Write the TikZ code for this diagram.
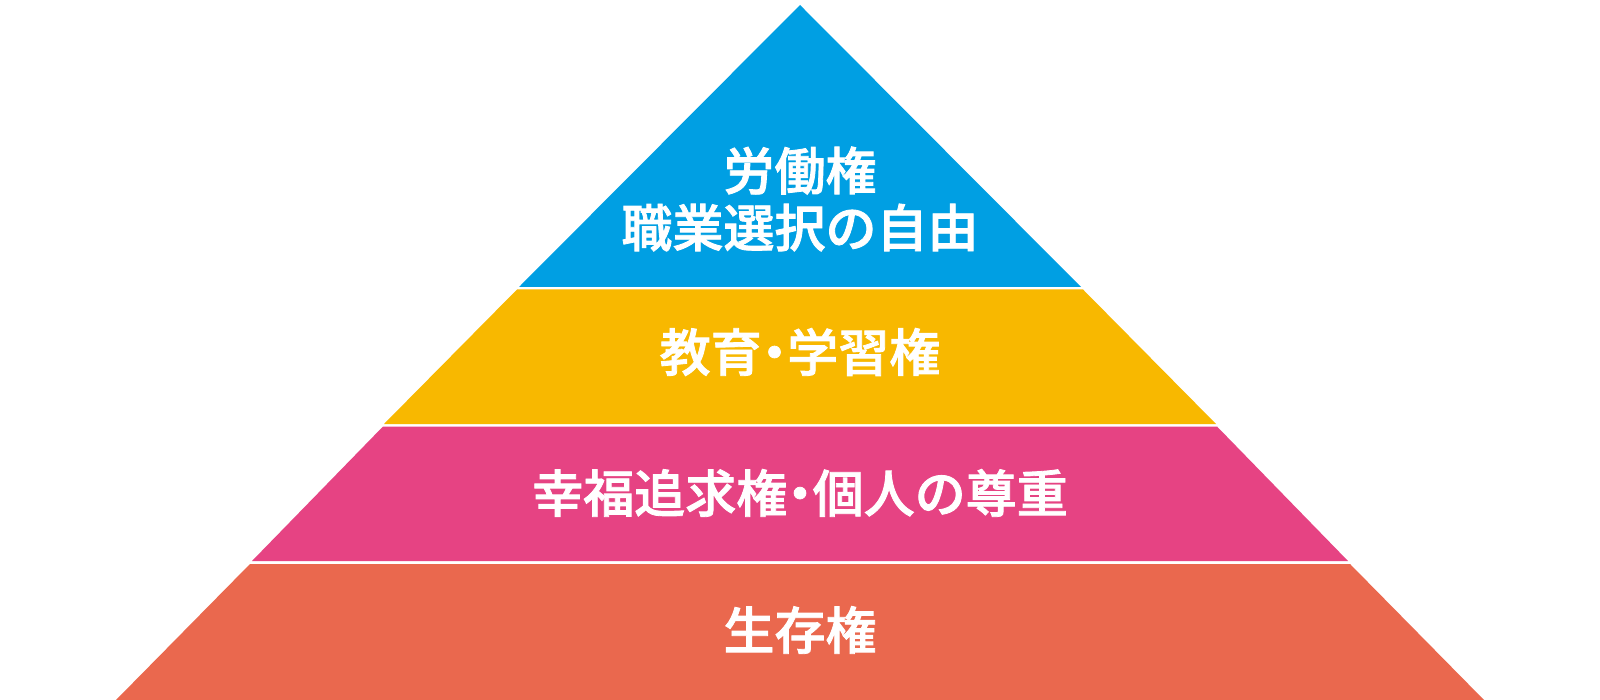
\documentclass[tikz,border=0pt]{standalone}
\usepackage{fontspec}
\newfontfamily\cjk[FakeBold=1.6]{Noto Sans CJK JP Medium}
\newcommand{\nakaguro}{\makebox[0.5em]{・}}
\definecolor{cblue}{RGB}{0,159,227}
\definecolor{cyellow}{RGB}{248,184,0}
\definecolor{cpink}{RGB}{230,67,131}
\definecolor{corange}{RGB}{234,104,78}
\tikzset{lbl/.style={text=white,font=\cjk\fontsize{51}{57}\selectfont,align=center,inner sep=0pt}}
\begin{document}
\begin{tikzpicture}[x=1pt,y=-1pt]
\useasboundingbox[fill=white] (0,0) rectangle (1600,700);
\fill[cblue] (800,5) -- (1081,287) -- (519,287) -- cycle;
\fill[cyellow] (517,289.5) -- (1083,289.5) -- (1216,424) -- (384,424) -- cycle;
\fill[cpink] (383,426.5) -- (1217,426.5) -- (1348,561) -- (252,561) -- cycle;
\fill[corange] (250,564) -- (1350,564) -- (1484,700) -- (116,700) -- cycle;
\node[lbl] (t1) at (800,199) {労働権\\職業選択の自由};
\node[lbl] (t2) at (800,352) {教育\nakaguro 学習権};
\node[lbl] (t3) at (800,493) {幸福追求権\nakaguro 個人の尊重};
\node[lbl] (t4) at (800,630) {生存権};
\end{tikzpicture}
\end{document}
